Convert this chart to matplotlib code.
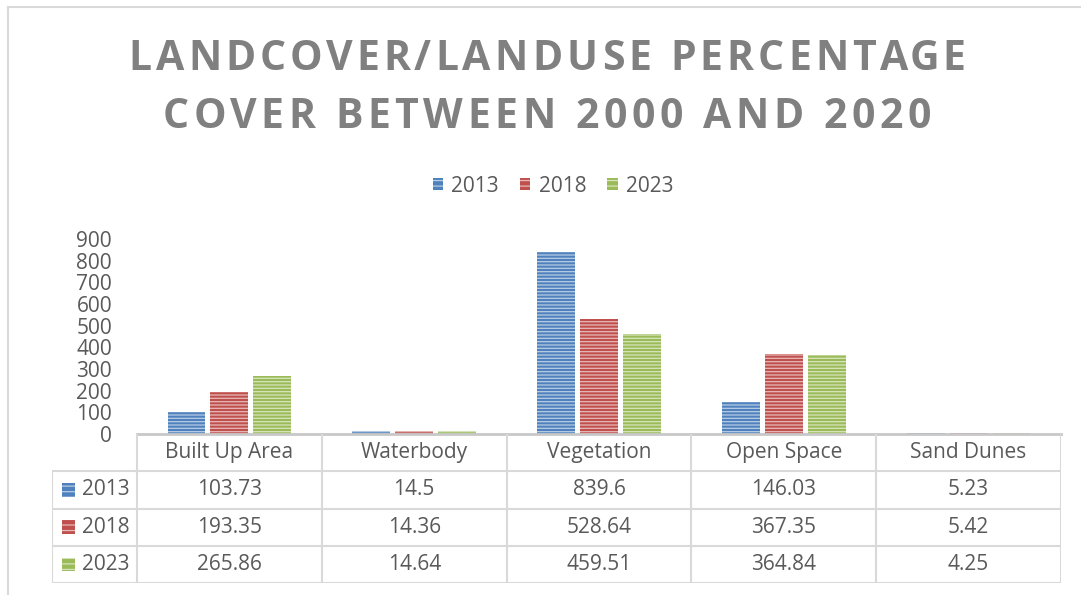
import numpy as np
import matplotlib.pyplot as plt
from matplotlib.patches import Rectangle
from matplotlib.lines import Line2D

categories = ["Built Up Area", "Waterbody", "Vegetation", "Open Space", "Sand Dunes"]
years = ["2013", "2018", "2023"]
v2013 = [103.73, 14.5, 839.6, 146.03, 5.23]
v2018 = [193.35, 14.36, 528.64, 367.35, 5.42]
v2023 = [265.86, 14.64, 459.51, 364.84, 4.25]
values = [v2013, v2018, v2023]
labels_txt = [["103.73", "14.5", "839.6", "146.03", "5.23"],
              ["193.35", "14.36", "528.64", "367.35", "5.42"],
              ["265.86", "14.64", "459.51", "364.84", "4.25"]]
title_lines = ["LANDCOVER/LANDUSE PERCENTAGE", "COVER BETWEEN 2000 AND 2020"]

colors = ["#4F81BD", "#C0504D", "#9BBB59"]
stripes = ["#B8CCE4", "#E6B9B8", "#D7E4BD"]
grey_txt = "#595959"
line_c = "#D9D9D9"

plt.rcParams['font.family'] = ['Open Sans', 'DejaVu Sans']
plt.rcParams['hatch.linewidth'] = 0.9

W, H = 1081, 595
fig = plt.figure(figsize=(W / 100, H / 100), dpi=100)
renderer = fig.canvas.get_renderer()

# outer chart border (cut off at right / bottom)
fig.add_artist(Line2D([8 / W, 8 / W], [0, 1 - 7 / H], color=line_c, lw=1.5))
fig.add_artist(Line2D([8 / W, 1], [1 - 7 / H, 1 - 7 / H], color=line_c, lw=1.5))


def spaced_text(s, xc, yc, spacing, **kw):
    # draw a string with extra letter spacing (in pixels), centred on xc (pixels)
    def width(t):
        if not t:
            return 0.0
        tt = fig.text(0, 0, t.replace(" ", "\u00a0"), **kw)
        w = tt.get_window_extent(renderer).width
        tt.remove()
        return w
    total = width(s) + spacing * (len(s) - 1)
    start = xc - total / 2
    for k, ch in enumerate(s):
        if ch == " ":
            continue
        xp = start + width(s[:k]) + k * spacing
        fig.text(xp / W, 1 - yc / H, ch, ha='left', va='center', **kw)


tkw = dict(fontsize=29.5, fontweight='bold', color="#808080")
spaced_text(title_lines[0], 547, 59, 4.1, **tkw)
spaced_text(title_lines[1], 547, 118, 4.6, **tkw)

# main axes
x0, x1 = 137, 1061
y_zero, y_900 = 434, 239
ax = fig.add_axes([x0 / W, (H - y_zero) / H, (x1 - x0) / W, (y_zero - y_900) / H])
x = np.arange(len(categories))
bw, step = 0.205, 0.232
for i in range(3):
    xs = x + (i - 1) * step
    ax.bar(xs, values[i], bw, color=colors[i], linewidth=0)
    ax.bar(xs, values[i], bw, facecolor='none', edgecolor=stripes[i], hatch='-----', linewidth=0)

ax.set_xlim(-0.5, len(categories) - 0.5)
ax.set_ylim(0, 900)
ax.set_yticks(range(0, 901, 100))
ax.set_xticks([])
ax.tick_params(axis='y', length=0, pad=18, labelsize=15, labelcolor=grey_txt)
for s in ['top', 'right', 'left']:
    ax.spines[s].set_visible(False)
ax.spines['bottom'].set_color("#C8C8C8")
ax.spines['bottom'].set_linewidth(2)
ax.patch.set_alpha(0)

# legend
handles = [Rectangle((0, 0), 1, 1, facecolor=colors[i], edgecolor=stripes[i], hatch='---', lw=0)
           for i in range(3)]
fig.legend(handles, years, loc='center', bbox_to_anchor=(553 / W, 1 - 186 / H), ncol=3,
           frameon=False, fontsize=15, labelcolor=grey_txt, handlelength=0.5, handleheight=0.5,
           handletextpad=0.4, columnspacing=1.0)

# data table under the axis
tx0 = 52
lab_w = (x0 - tx0) / ((x1 - x0) / len(categories))
tab = fig.add_axes([tx0 / W, (H - 583) / H, (x1 - tx0) / W, (583 - y_zero) / H])
tab.set_xlim(-0.5 - lab_w, len(categories) - 0.5)
tab.set_ylim(4, 0)
tab.axis('off')
lkw = dict(color=line_c, lw=1.5, solid_capstyle='butt')
for k in range(len(categories) + 1):
    tab.plot([k - 0.5, k - 0.5], [0, 4], **lkw)
tab.plot([-0.5 - lab_w, -0.5 - lab_w], [1, 4], **lkw)
for r in range(1, 5):
    tab.plot([-0.5 - lab_w, len(categories) - 0.5], [r, r], **lkw)

for j, c in enumerate(categories):
    tab.text(j, 0.5, c, ha='center', va='center', fontsize=15, color=grey_txt)
for i in range(3):
    tab.add_patch(Rectangle((-0.5 - lab_w + 0.055, i + 1.32), 0.072, 0.36,
                            facecolor=colors[i], edgecolor=stripes[i], hatch='---', lw=0))
    tab.text(-0.5 - lab_w + 0.16, i + 1.5, years[i], ha='left', va='center',
             fontsize=15, color=grey_txt)
    for j in range(len(categories)):
        tab.text(j, i + 1.5, labels_txt[i][j], ha='center', va='center',
                 fontsize=15, color=grey_txt)

fig.savefig("out.png", dpi=100)
